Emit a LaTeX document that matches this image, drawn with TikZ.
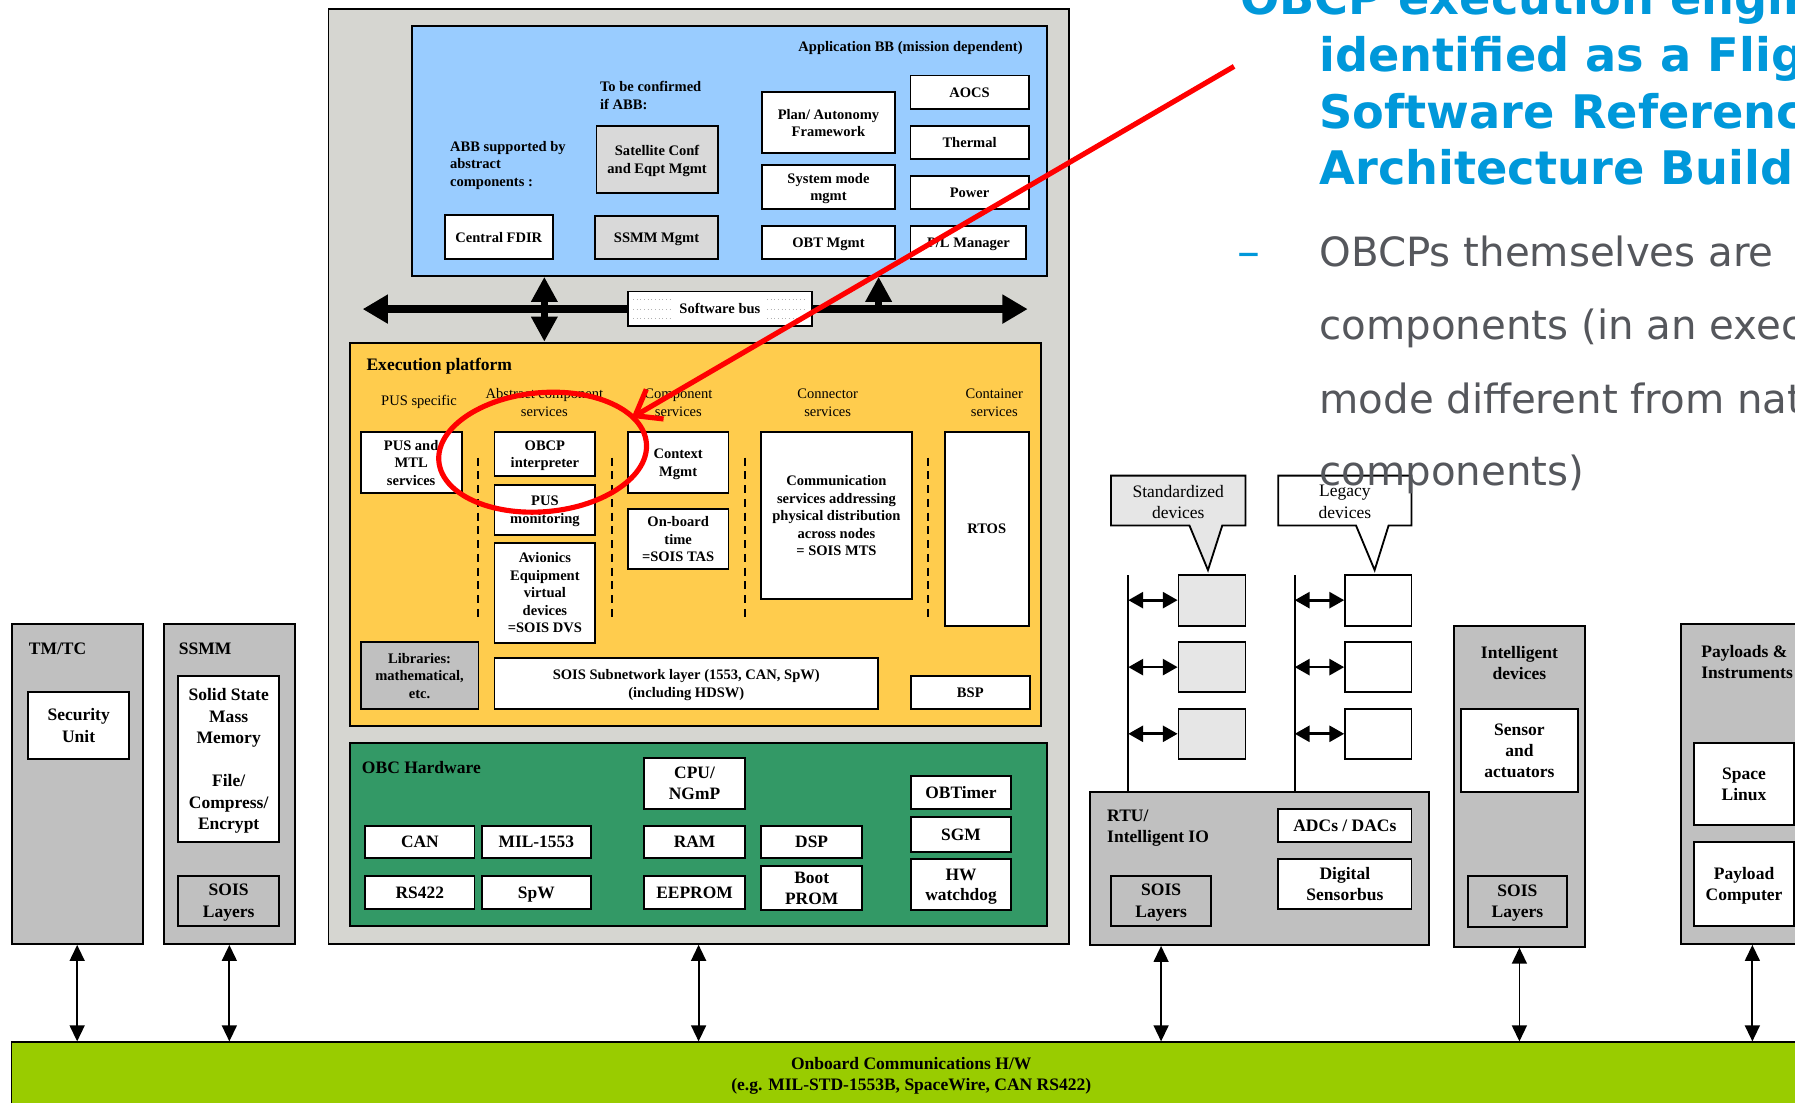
\documentclass[tikz,border=0pt]{standalone}
\usepackage{fontspec}
\setmainfont{Liberation Serif}
\newfontfamily\slidefont{DejaVu Sans}
\usetikzlibrary{arrows.meta}

\definecolor{shellgray}{RGB}{214,214,209}
\definecolor{appblue}{RGB}{153,204,255}
\definecolor{execyellow}{RGB}{255,204,77}
\definecolor{hwgreen}{RGB}{51,153,102}
\definecolor{unitgray}{RGB}{192,192,192}
\definecolor{palegray}{RGB}{217,217,217}
\definecolor{devgray}{RGB}{230,230,230}
\definecolor{buslime}{RGB}{153,204,0}
\definecolor{titleblue}{RGB}{0,152,218}
\definecolor{bodygray}{RGB}{85,87,92}

\newcommand\setfs[2]{\fontsize{#1}{#2}\selectfont}
% \bx[style]{name}{x1}{y1}{x2}{y2}{text}: a box given by two corners
\newcommand\bx[7][]{%
  \node[#1, minimum width={(#5)-(#3)}, minimum height={(#6)-(#4)}]
    (#2) at ({((#3)+(#5))/2},{((#4)+(#6))/2}) {#7};}

\begin{document}
\begin{tikzpicture}[x=1pt,y=-1pt,
  frame/.style={draw=black, line width=1.6pt},
  area/.style={frame, inner sep=0pt},
  ftsmall/.style={font=\setfs{12.7}{15.3}\bfseries},
  ftbig/.style={font=\setfs{15.3}{18.5}\bfseries},
  wbox/.style={frame, fill=white, align=center, inner sep=0pt, text depth=0pt, ftsmall},
  pbox/.style={wbox, fill=palegray},
  hwbox/.style={wbox, ftbig, font=\setfs{15.2}{18}\bfseries},
  ubox/.style={wbox, ftbig},
  head/.style={inner sep=0pt, anchor=west, align=left, ftbig},
  colhead/.style={inner sep=0pt, align=center, font=\setfs{12.7}{15.5}},
  thickbus/.style={line width=7pt, {Triangle[length=22pt,width=24pt]}-{Triangle[length=22pt,width=24pt]}},
  link/.style={line width=1.6pt, {Triangle[length=14pt,width=13pt]}-{Triangle[length=14pt,width=13pt]}},
  devlink/.style={line width=2.4pt, {Triangle[length=13pt,width=14pt]}-{Triangle[length=13pt,width=14pt]}},
  titleline/.style={anchor=base west, inner sep=0pt, text=titleblue, font=\slidefont\bfseries\setfs{40.4}{48}},
  bodyline/.style={anchor=base west, inner sep=0pt, text=bodygray, font=\slidefont\setfs{35.2}{42}},
  redmark/.style={draw=red, line width=4.5pt}
]
\useasboundingbox (0,0) rectangle (1568,963);
\fill[white] (0,0) rectangle (1568,963);
\begin{scope}
\clip (0,0) rectangle (1568,963);

% ---------- on-board computer shell ----------
\bx[area, fill=shellgray]{shell}{287}{8}{933.5}{824.5}{}

% ---------- application building blocks ----------
\bx[area, fill=appblue]{app}{360}{22.5}{914.5}{241}{}
\node[inner sep=0pt, anchor=east, ftsmall] (apptitle) at (893.5,42) {Application BB (mission dependent)};
\node[inner sep=0pt, anchor=west, align=left, ftsmall] (tbc) at (524,83.5) {To be confirmed\\if ABB:};
\node[inner sep=0pt, anchor=west, align=left, ftsmall] (abbsup) at (393,144.5) {ABB supported by\\abstract\\components :};
\bx[pbox]{satconf}{521}{110}{627}{168.3}{Satellite Conf\\and Eqpt Mgmt}
\bx[pbox]{ssmmmgmt}{520}{188.7}{627}{226.5}{SSMM Mgmt}
\bx[wbox]{fdir}{388.7}{188}{482.8}{226.5}{Central FDIR}
\bx[wbox]{plan}{665.6}{80.4}{781.8}{134}{Plan/ Autonomy\\Framework}
\bx[wbox]{sysmode}{665.6}{144}{781.8}{182.8}{System mode\\mgmt}
\bx[wbox]{obtmgmt}{665.6}{197.4}{781.8}{226.5}{OBT Mgmt}
\bx[wbox]{aocs}{795.3}{66}{898.6}{95.5}{AOCS}
\bx[wbox]{thermal}{795.3}{109.8}{898.6}{139}{Thermal}
\bx[wbox]{power}{795.3}{153.5}{898.6}{182.8}{Power}
\bx[wbox]{plmgr}{795.3}{197.4}{896.6}{226.5}{P/L Manager}

% ---------- execution platform ----------
\bx[area, fill=execyellow]{exe}{305.8}{299.3}{909.4}{634.2}{}
\node[head] (exetitle) at (320,319.5) {Execution platform};
\node[colhead] (hpus) at (366,351.5) {PUS specific};
\node[colhead] (habs) at (475.5,351.5) {Abstract component\\services};
\node[colhead] (hcomp) at (592.6,351.5) {Component\\services};
\node[colhead] (hconn) at (723,351.5) {Connector\\services};
\node[colhead] (hcont) at (868.6,351.5) {Container\\services};
\bx[wbox]{pusmtl}{315}{377.6}{403.3}{430.4}{PUS and\\MTL\\services}
\bx[wbox]{obcp}{432}{377.6}{520}{415.8}{OBCP\\interpreter}
\bx[wbox]{pusmon}{432}{423.7}{520}{467}{PUS\\monitoring}
\bx[wbox]{avionics}{432}{474}{520}{561.4}{Avionics\\Equipment\\virtual\\devices\\=SOIS DVS}
\bx[wbox]{ctxmgmt}{548.5}{377.6}{636.3}{430.4}{Context\\Mgmt}
\bx[wbox]{obtime}{548.5}{444.6}{636.3}{497.3}{On-board\\time\\=SOIS TAS}
\bx[wbox]{commsvc}{665}{377.6}{796.3}{523.2}{Communication\\services addressing\\physical distribution\\across nodes\\= SOIS MTS}
\bx[wbox]{rtos}{825.2}{377.6}{898.6}{546.5}{RTOS}
\bx[wbox, fill=unitgray]{libs}{315}{561}{418}{619.6}{Libraries:\\mathematical,\\etc.}
\bx[wbox]{soissub}{432}{575}{767}{619.3}{SOIS Subnetwork layer (1553, CAN, SpW)\\(including HDSW)}
\bx[wbox]{bsp}{795.8}{590.5}{899.4}{619.6}{BSP}
\foreach \xx in {417.7,534.4,650.8,810.4}
  \draw[line width=1.6pt, dash pattern=on 7pt off 5pt] (\xx,399.8) -- (\xx,541.6);

% ---------- software bus ----------
\coordinate (busL) at (316.8,270);
\coordinate (busR) at (897.7,270);
\draw[thickbus] (busL) -- (busR);
\coordinate (va) at (475.5,270);
\draw[line width=6pt, {Triangle[length=22pt,width=22pt]}-{Triangle[length=22pt,width=22pt]}] (app.south -| va) -- (exe.north -| va);
\coordinate (vb) at (767.5,270);
\draw[line width=6pt, -{Triangle[length=22pt,width=22pt]}] (vb) -- (app.south -| vb);
\bx[wbox, line width=1.4pt]{swbus}{548.4}{254.8}{709.3}{284.8}{Software bus}
\foreach \yy in {262,270,278} {
  \draw[gray!60, line width=0.8pt, dash pattern=on 0.8pt off 2.4pt] (553,\yy) -- (588,\yy);
  \draw[gray!60, line width=0.8pt, dash pattern=on 0.8pt off 2.4pt] (670,\yy) -- (705,\yy);
}

% ---------- OBC hardware ----------
\bx[area, fill=hwgreen]{obchw}{305.8}{648.7}{914.6}{809}{}
\node[head] (hwtitle) at (316,670.5) {OBC Hardware};
\bx[hwbox]{cpu}{562.6}{662}{650.8}{706.7}{CPU/\\NGmP}
\bx[hwbox]{obtimer}{796}{677.6}{883}{706.7}{OBTimer}
\bx[hwbox]{sgm}{796}{714}{883}{744}{SGM}
\bx[hwbox]{hwwd}{796}{750.6}{883}{795}{HW\\watchdog}
\bx[hwbox]{can}{319}{721.6}{414.5}{749.6}{CAN}
\bx[hwbox]{mil}{421}{721.6}{516}{749.6}{MIL-1553}
\bx[hwbox]{ram}{562.6}{721.6}{650.8}{749.6}{RAM}
\bx[hwbox]{dsp}{665}{721.6}{753}{749.6}{DSP}
\bx[hwbox]{rsbus}{319}{765}{414.5}{794}{RS422}
\bx[hwbox]{spw}{421}{765}{516}{794}{SpW}
\bx[hwbox]{eeprom}{562.6}{765}{650.8}{794}{EEPROM}
\bx[hwbox]{bootprom}{665}{756.5}{753}{795}{Boot\\PROM}

% ---------- TM/TC and SSMM units ----------
\bx[area, fill=unitgray]{tmtc}{10.2}{545}{124.6}{824.6}{}
\node[head] (tmtctitle) at (25,567) {TM/TC};
\bx[ubox]{secu}{24.7}{604.5}{112.7}{663}{Security\\Unit}
\bx[area, fill=unitgray]{ssmm}{143}{545}{257.7}{824.6}{}
\node[head] (ssmmtitle) at (156,567) {SSMM};
\bx[ubox, font=\setfs{15.3}{18.8}\bfseries]{ssmmcore}{155.8}{590.5}{243.7}{735.5}{Solid State\\Mass\\Memory\\\mbox{}\\File/\\Compress/\\Encrypt}
\bx[ubox, fill=unitgray]{ssmmsois}{155.8}{765}{243.7}{808.6}{SOIS\\Layers}

% ---------- RTU and devices ----------
\bx[area, fill=unitgray]{rtu}{952}{692}{1248}{825.5}{}
\node[head] (rtutitle) at (967,723.5) {RTU/\\Intelligent IO};
\bx[ubox, fill=unitgray]{rtusois}{970.5}{765}{1058}{808.6}{SOIS\\Layers}
\bx[ubox]{adc}{1116.6}{706.7}{1233}{735.6}{ADCs / DACs}
\bx[ubox]{dsbus}{1116.6}{750.4}{1233}{794}{Digital\\Sensorbus}

\coordinate (railA) at (985.6,502.3);
\coordinate (railB) at (1131,502.3);
\draw[line width=1.6pt] (railA) -- (railA |- rtu.north);
\draw[line width=1.6pt] (railB) -- (railB |- rtu.north);
\bx[frame, fill=devgray]{sd1}{1029.5}{502}{1088}{546.5}{}
\bx[frame, fill=devgray]{sd2}{1029.5}{561}{1088}{604.5}{}
\bx[frame, fill=devgray]{sd3}{1029.5}{619}{1088}{663}{}
\bx[frame, fill=white]{ld1}{1175}{502}{1233}{546.5}{}
\bx[frame, fill=white]{ld2}{1175}{561}{1233}{604.5}{}
\bx[frame, fill=white]{ld3}{1175}{619}{1233}{663}{}
\foreach \d in {sd1,sd2,sd3} \draw[devlink] (railA |- \d.west) -- (\d.west);
\foreach \d in {ld1,ld2,ld3} \draw[devlink] (railB |- \d.west) -- (\d.west);

% callouts naming the two device families
\draw[frame, fill=devgray] (970.5,415.5) -- (1088,415.5) -- (1088,459) -- (1067.7,459)
  -- (1055.2,498) -- (1039,459) -- (970.5,459) -- cycle;
\node[align=center, inner sep=0pt, font=\setfs{15.3}{19}] (stdlbl) at (1029.25,438.5) {Standardized\\devices};
\draw[frame, fill=white] (1116.6,415.5) -- (1233,415.5) -- (1233,459) -- (1213,459)
  -- (1200.8,498) -- (1184.5,459) -- (1116.6,459) -- cycle;
\node[align=center, inner sep=0pt, font=\setfs{15.3}{19}] (leglbl) at (1174.8,438.5) {Legacy\\devices};

% ---------- intelligent devices, payloads ----------
\bx[area, fill=unitgray]{intel}{1270}{546.5}{1384.5}{827}{}
\node[inner sep=0pt, align=center, ftbig] (inteltitle) at (1327.25,579.5) {Intelligent\\devices};
\bx[ubox]{sensact}{1276}{619}{1378.5}{692}{Sensor\\and\\actuators}
\bx[ubox, fill=unitgray]{intelsois}{1282}{765}{1369}{810}{SOIS\\Layers}

\bx[area, fill=unitgray]{payload}{1468.5}{545}{1593}{824.6}{}
\node[head] (paytitle) at (1486,578) {Payloads \&\\Instruments};
\bx[ubox]{slinux}{1480}{648.7}{1567}{721}{Space\\Linux}
\bx[ubox]{plcomp}{1480}{735.5}{1567}{808.6}{Payload\\Computer}

% ---------- onboard communications ----------
\bx[area, fill=buslime]{obus}{10}{910.5}{1600}{1000}{}
\node[inner sep=0pt, align=center, ftbig, font=\setfs{15.3}{18}\bfseries] (obustext) at (796,940)
  {Onboard Communications H/W\\(e.g. MIL-STD-1553B, SpaceWire, CAN RS422)};

\draw[link] (tmtc.south) -- (tmtc.south |- obus.north);
\draw[link] (ssmm.south) -- (ssmm.south |- obus.north);
\draw[link] (shell.south) -- (shell.south |- obus.north);
\draw[link] (rtu.south -| rtusois.south) -- (rtusois.south |- obus.north);
\draw[link] (intel.south) -- (intel.south |- obus.north);
\draw[link] (payload.south) -- (payload.south |- obus.north);

% ---------- red highlight ----------
\draw[redmark, rotate around={5:(474,395)}] (474,395) ellipse [x radius=91pt, y radius=52pt];
\coordinate (rs) at (1078,58);
\coordinate (rt) at (551.6,365);
\draw[redmark, -{Straight Barb[length=20pt,width=30pt]}] (rs) -- (rt);

% ---------- slide text ----------
\node[titleline] (tl1) at (1083,13) {OBCP execution engine};
\node[titleline] (tl2) at (1152.5,62.6) {identified as a Flight};
\node[titleline] (tl3) at (1152.5,112) {Software Reference};
\node[titleline] (tl4) at (1152.5,161.6) {Architecture Building};
\node[bodyline, text=titleblue, font=\slidefont\setfs{40}{42}] (dash) at (1081,234) {–};
\node[bodyline] (bl1) at (1152.5,233) {OBCPs themselves are};
\node[bodyline] (bl2) at (1152.5,297) {components (in an execution};
\node[bodyline] (bl3) at (1152.5,361) {mode different from native};
\node[bodyline] (bl4) at (1152.5,423.7) {components)};
\end{scope}
\end{tikzpicture}
\end{document}
